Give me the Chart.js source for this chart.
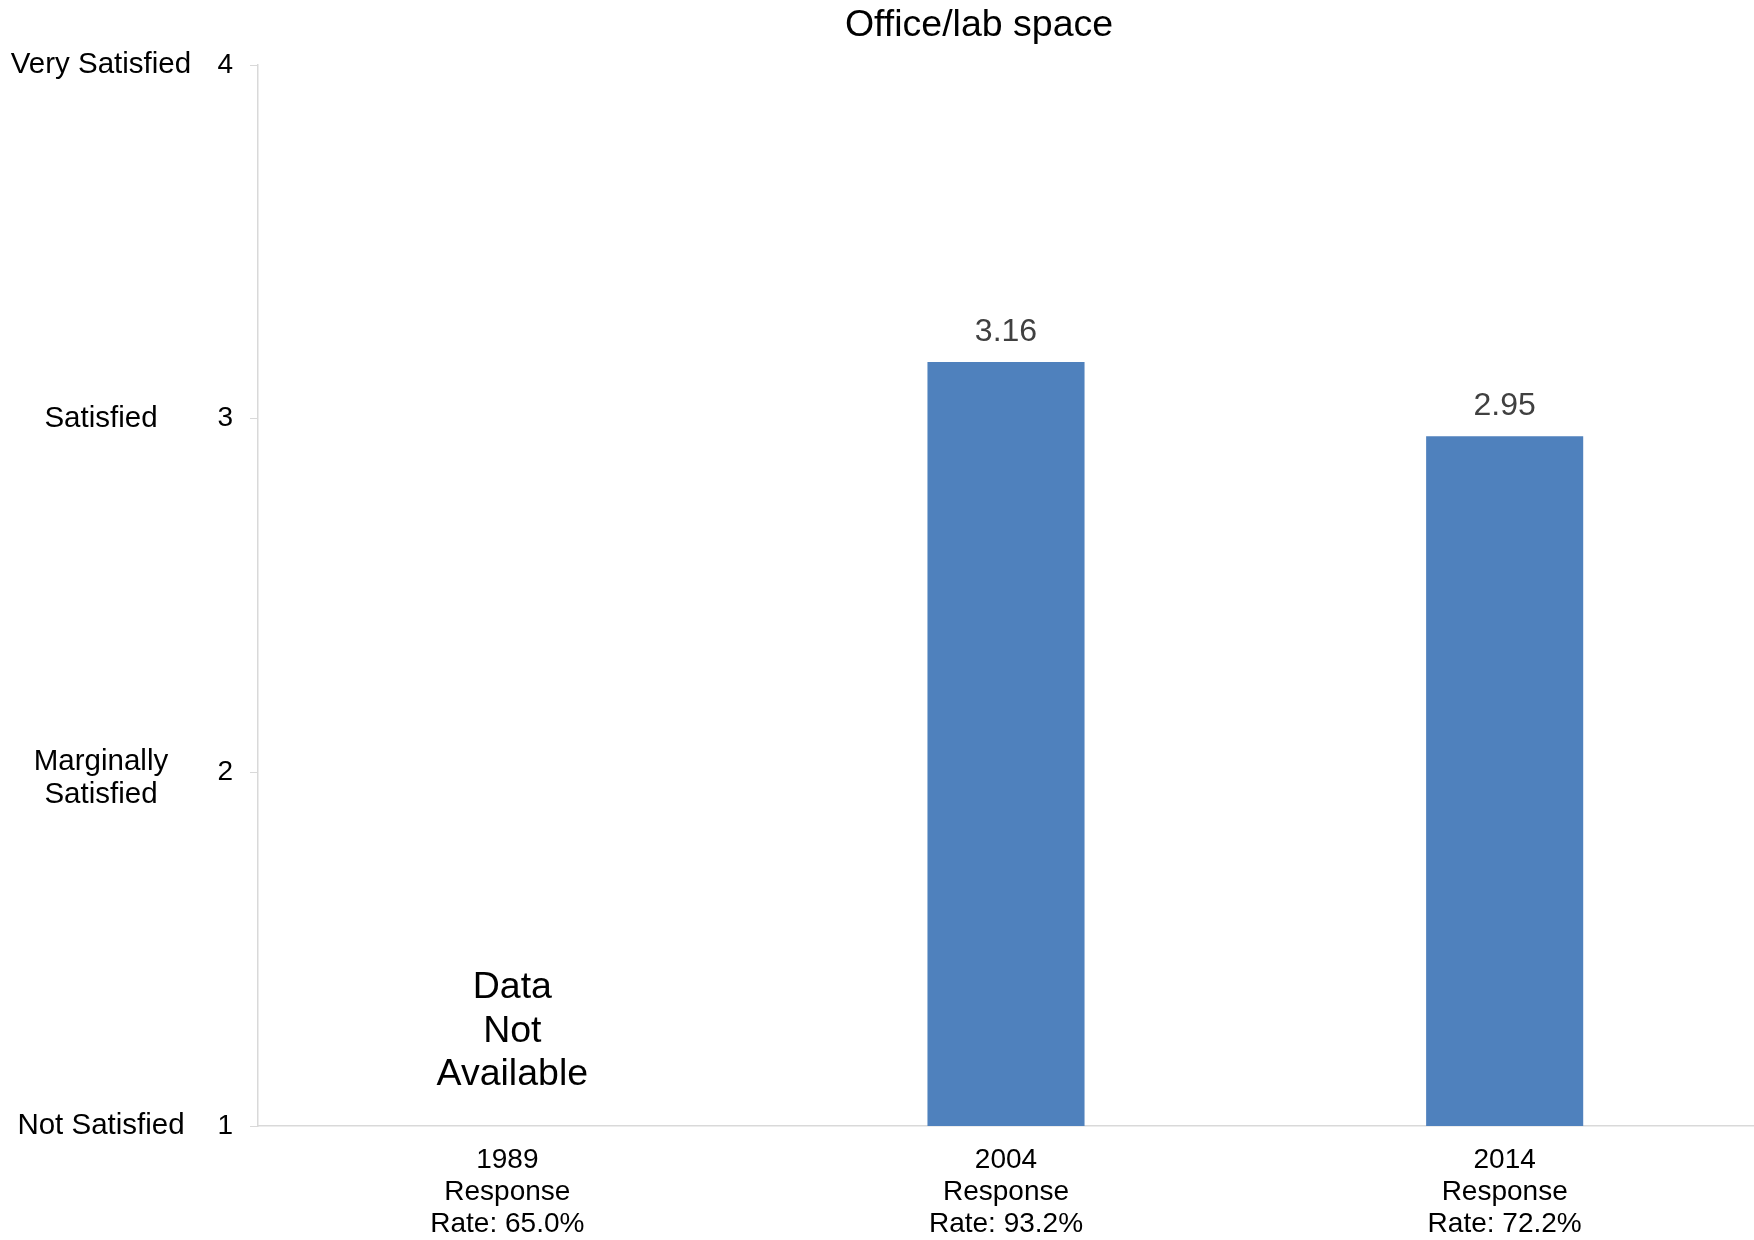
<!DOCTYPE html>
<html>
<head>
<meta charset="utf-8">
<script src="https://cdn.jsdelivr.net/npm/chart.js@4.4.1/dist/chart.umd.min.js"></script>
<style>
  html, body { margin: 0; padding: 0; background: #fff; }
  #wrap { width: 1754px; height: 1240px; }
</style>
</head>
<body>
<div id="wrap"><canvas id="c" width="1754" height="1240"></canvas></div>
<script>
const title = "Office/lab space";
const years = ["1989", "2004", "2014"];
const rates = ["65.0%", "93.2%", "72.2%"];
const scores = [null, 3.16, 2.95];
const yTicks = [1, 2, 3, 4];
const yNames = ["Not Satisfied", "Marginally\nSatisfied", "Satisfied", "Very Satisfied"];
const missingText = ["Data", "Not", "Available"];

const labels = years.map((y, i) => [y, "Response", "Rate: " + rates[i]]);
const FONT = "'Liberation Sans', Arial, sans-serif";

// title, text beside the y axis, value labels over bars, and the "no data" note
const extras = {
    id: "extras",
    afterDatasetsDraw(chart) {
        const ctx = chart.ctx;
        const y = chart.scales.y;
        const x = chart.scales.x;
        ctx.save();
        ctx.textAlign = "center";
        ctx.textBaseline = "middle";

        ctx.fillStyle = "#000";
        ctx.font = "37.5px " + FONT;
        ctx.fillText(title, 979, 26);

        ctx.font = "29.5px " + FONT;
        yTicks.forEach((v, i) => {
            const lines = yNames[i].split("\n");
            const py = y.getPixelForValue(v);
            const start = py - (lines.length - 1) * 33 / 2 + (lines.length > 1 ? 6 : 0);
            lines.forEach((l, j) => ctx.fillText(l, 101, start + j * 33));
        });

        const meta = chart.getDatasetMeta(0);
        ctx.fillStyle = "#404040";
        ctx.font = "32px " + FONT;
        meta.data.forEach((bar, i) => {
            if (scores[i] == null) return;
            ctx.fillText(scores[i].toFixed(2), bar.x, bar.y - 30);
        });

        ctx.fillStyle = "#000";
        ctx.font = "37.5px " + FONT;
        scores.forEach((s, i) => {
            if (s != null) return;
            const cx = x.getPixelForValue(i) + 5;
            const base = chart.chartArea.bottom;
            missingText.forEach((t, j) => ctx.fillText(t, cx, base - 138 + j * 43.5));
        });
        ctx.restore();
    }
};

new Chart("c", {
    type: "bar",
    data: {
        labels: labels,
        datasets: [{
            data: scores,
            backgroundColor: "#4F81BD",
            barPercentage: 0.315,
            categoryPercentage: 1.0
        }]
    },
    options: {
        responsive: false,
        animation: false,
        layout: { padding: { top: 65, left: 0, right: 0, bottom: 0 } },
        plugins: {
            legend: { display: false },
            tooltip: { enabled: false },
            title: { display: false }
        },
        scales: {
            x: {
                grid: { drawOnChartArea: false, drawTicks: false },
                border: { color: "#D9D9D9", width: 1.5 },
                ticks: {
                    color: "#000",
                    padding: 18,
                    maxRotation: 0,
                    autoSkip: false,
                    font: { family: FONT, size: 28, lineHeight: 1.14 }
                },
                afterFit(s) { s.height = 114; }
            },
            y: {
                min: 1,
                max: 4,
                grid: { drawOnChartArea: false, drawTicks: true, tickLength: 8, color: "#D9D9D9" },
                border: { color: "#D9D9D9", width: 1.5 },
                ticks: {
                    stepSize: 1,
                    color: "#000",
                    padding: 17,
                    font: { family: FONT, size: 28 }
                },
                afterFit(s) { s.width = 258; }
            }
        }
    },
    plugins: [extras]
});
</script>
</body>
</html>
